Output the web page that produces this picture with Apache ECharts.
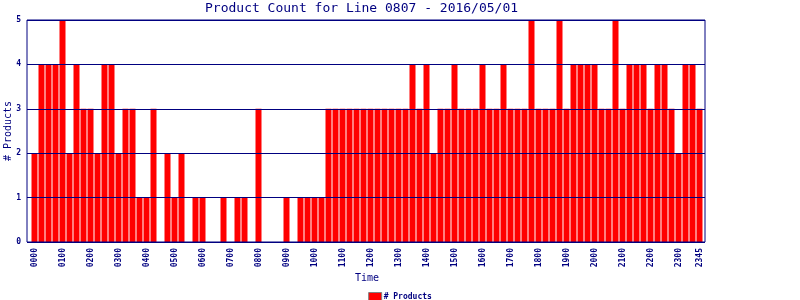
<!DOCTYPE html>
<html><head><meta charset="utf-8">
<script src="https://cdn.jsdelivr.net/npm/echarts@6/dist/echarts.min.js"></script>
<style>html,body{margin:0;padding:0;background:#fff}#c{width:800px;height:300px}</style>
</head><body><div id="c"></div>
<script>
const times = [];
for (let h = 0; h < 24; h++) for (let m = 0; m < 60; m += 15)
  times.push(String(h).padStart(2,'0') + String(m).padStart(2,'0'));
const products = [
  2,4,4,4, 5,2,4,3, 3,2,4,4, 2,3,3,1,
  1,3,0,2, 1,2,0,1, 1,0,0,1, 0,1,1,0,
  3,0,0,0, 1,0,1,1, 1,1,3,3, 3,3,3,3,
  3,3,3,3, 3,3,4,3, 4,2,3,3, 4,3,3,3,
  4,3,3,4, 3,3,3,5, 3,3,3,5, 3,4,4,4,
  4,3,3,5, 3,4,4,4, 3,4,4,3, 2,4,4,3
];
const yTicks = [0,1,2,3,4,5];
const titleText = 'Product Count for Line 0807 - 2016/05/01';
const navy = '#000080';
const mono = 'DejaVu Sans Mono';
const chart = echarts.init(document.getElementById('c'), null, {renderer:'canvas'});
chart.setOption({
  animation: false,
  title: { text: titleText, left: 205, top: 2, padding: 0,
    textStyle: { fontFamily: mono, fontSize: 13, fontWeight: 'normal', color: navy } },
  legend: { data: ['# Products'], left: 'center', top: 292, padding: 0, itemWidth: 13, itemHeight: 8,
    itemGap: 4, icon: 'rect',
    itemStyle: { borderColor: '#808080', borderWidth: 1 },
    textStyle: { fontFamily: mono, fontSize: 8, fontWeight: 'bold', color: navy, padding: [0,0,0,-3] } },
  grid: [
    { left: 27, top: 20, width: 678, height: 222, show: true, borderColor: navy, borderWidth: 1,
      backgroundColor: 'transparent', z: 5, containLabel: false, outerBoundsMode: 'none' },
    { left: 31, top: 20, width: 672, height: 222, containLabel: false, outerBoundsMode: 'none' }
  ],
  xAxis: [
    { type: 'value', gridIndex: 0, show: false, min: 0, max: 1 },
    { type: 'category', gridIndex: 1, data: times, boundaryGap: true,
      axisLine: { show: false }, axisTick: { show: false },
      axisLabel: { rotate: 90, interval: (i) => i % 4 === 0 || i === times.length - 1,
        fontFamily: mono, fontSize: 8, fontWeight: 'bold', color: navy, margin: 6 },
      name: 'Time', nameLocation: 'middle', nameGap: 31, nameMoveOverlap: false,
      nameTextStyle: { fontFamily: mono, fontSize: 10, color: navy } }
  ],
  yAxis: [
    { type: 'value', gridIndex: 0, min: 0, max: 5, interval: 1, z: 6,
      axisLine: { show: false }, axisTick: { show: false },
      splitLine: { show: true, lineStyle: { color: navy, width: 1 } },
      axisLabel: { fontFamily: mono, fontSize: 8, fontWeight: 'bold', color: navy, margin: 6,
        formatter: (v) => yTicks.includes(v) ? String(v) : '' },
      name: '# Products', nameLocation: 'middle', nameGap: 14, nameMoveOverlap: false,
      nameTextStyle: { fontFamily: mono, fontSize: 10, color: navy } },
    { type: 'value', gridIndex: 1, min: 0, max: 5, interval: 1, show: false }
  ],
  series: [
    { name: '# Products', type: 'bar', xAxisIndex: 1, yAxisIndex: 1, data: products,
      barWidth: 6, itemStyle: { color: '#ff0000' }, z: 2 }
  ]
});
</script></body></html>
